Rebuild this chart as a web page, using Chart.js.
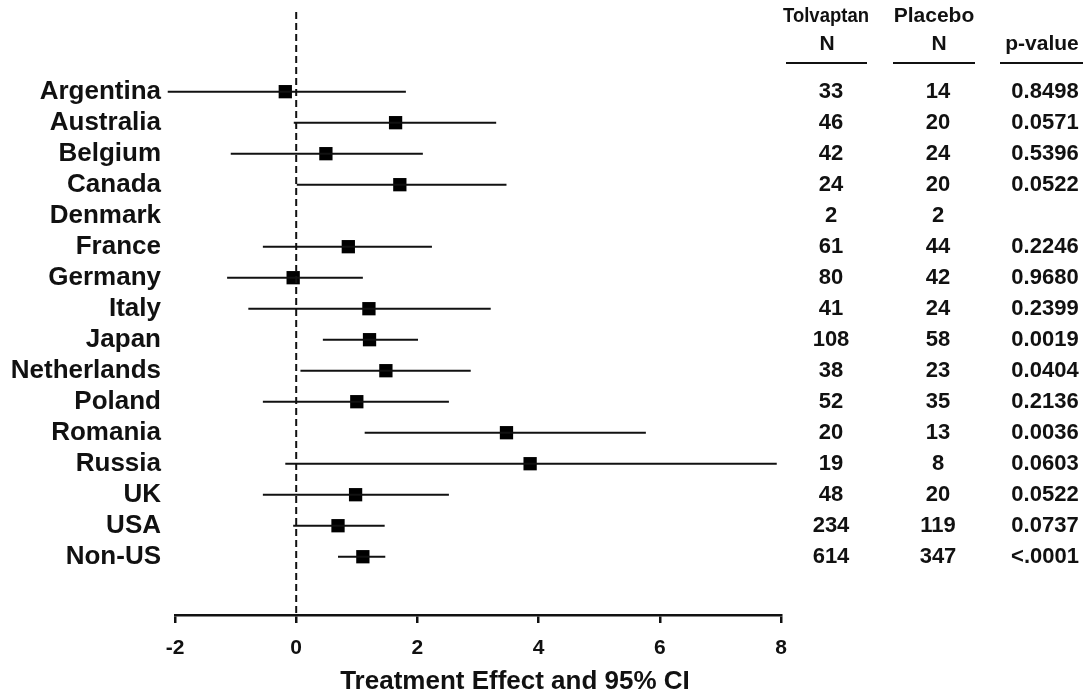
<!DOCTYPE html>
<html>
<head>
<meta charset="utf-8">
<title>Treatment effect by country</title>
<script src="https://cdn.jsdelivr.net/npm/chart.js@4/dist/chart.umd.min.js"></script>
<style>
  html, body { margin: 0; padding: 0; background: #ffffff; }
  #wrap { width: 1086px; height: 698px; }
</style>
</head>
<body>
<div id="wrap"><canvas id="forest" width="1086" height="698"></canvas></div>
<script>
// Countries, top to bottom
const countries = ['Argentina', 'Australia', 'Belgium', 'Canada', 'Denmark', 'France', 'Germany',
  'Italy', 'Japan', 'Netherlands', 'Poland', 'Romania', 'Russia', 'UK', 'USA', 'Non-US'];

// Treatment effect with 95% CI (Denmark has no estimate)
const estimate = [-0.18, 1.64, 0.49, 1.71, null, 0.86, -0.05, 1.20, 1.21, 1.48, 1.00, 3.47, 3.86, 0.98, 0.69, 1.10];
const lowerCI  = [-2.12, -0.04, -1.08, 0.01, null, -0.55, -1.14, -0.79, 0.44, 0.07, -0.55, 1.13, -0.18, -0.55, -0.05, 0.69];
const upperCI  = [1.81, 3.30, 2.09, 3.47, null, 2.24, 1.10, 3.21, 2.01, 2.88, 2.52, 5.77, 7.93, 2.52, 1.46, 1.47];

// Table columns
const tolvaptanN = [33, 46, 42, 24, 2, 61, 80, 41, 108, 38, 52, 20, 19, 48, 234, 614];
const placeboN   = [14, 20, 24, 20, 2, 44, 42, 24, 58, 23, 35, 13, 8, 20, 119, 347];
const pValues    = ['0.8498', '0.0571', '0.5396', '0.0522', '', '0.2246', '0.9680', '0.2399', '0.0019',
  '0.0404', '0.2136', '0.0036', '0.0603', '0.0522', '0.0737', '<.0001'];

// Axis
const xTicks = [-2, 0, 2, 4, 6, 8];
const noEffect = 0;
const axisTitle = 'Treatment Effect and 95% CI';

const INK = '#111111';
const FONT = '"Liberation Sans", Arial, Helvetica, sans-serif';

// y runs over row indices; a little room above the first row and below the last
const yMin = -2.57;
const yMax = 16.88;

const datasets = [];

// dashed no-effect reference line
datasets.push({
  type: 'line',
  data: [{ x: noEffect, y: yMin }, { x: noEffect, y: yMax }],
  borderColor: INK,
  borderWidth: 2,
  borderDash: [7, 4],
  pointRadius: 0,
  fill: false
});

// confidence interval whiskers (may run past the axis ends)
countries.forEach((c, i) => {
  if (lowerCI[i] === null) return;
  datasets.push({
    type: 'line',
    label: c,
    data: [{ x: lowerCI[i], y: i }, { x: upperCI[i], y: i }],
    borderColor: INK,
    borderWidth: 2,
    pointRadius: 0,
    fill: false,
    clip: false
  });
});

// point estimates
datasets.push({
  type: 'scatter',
  data: countries.map((c, i) => ({ x: estimate[i], y: i })).filter(p => p.x !== null),
  pointStyle: 'rect',
  pointRadius: 9.4,
  pointHoverRadius: 9.4,
  backgroundColor: '#000000',
  borderColor: '#000000',
  borderWidth: 0,
  clip: false
});

// table to the right of the plot and the axis title
const tablePlugin = {
  id: 'forestTable',
  afterDraw(chart) {
    const ctx = chart.ctx;
    const y = chart.scales.y;
    const area = chart.chartArea;
    const col1 = area.right + 50, col2 = area.right + 157, col3 = area.right + 264;
    ctx.save();
    ctx.fillStyle = INK;
    ctx.textAlign = 'center';
    ctx.textBaseline = 'middle';

    // header
    ctx.font = 'bold 21px ' + FONT;
    ctx.fillText('Tolvaptan', area.right + 45, 16, 86);
    ctx.fillText('Placebo', area.right + 153, 16);
    ctx.fillText('N', area.right + 46, 44);
    ctx.fillText('N', area.right + 158, 44);
    ctx.fillText('p-value', area.right + 261, 44);
    ctx.strokeStyle = INK;
    ctx.lineWidth = 2;
    [[786, 867], [893, 975], [1000, 1083]].forEach(([a, b]) => {
      ctx.beginPath();
      ctx.moveTo(a, 63);
      ctx.lineTo(b, 63);
      ctx.stroke();
    });

    // rows
    ctx.font = 'bold 22px ' + FONT;
    countries.forEach((c, i) => {
      const py = y.getPixelForValue(i);
      ctx.fillText(String(tolvaptanN[i]), col1, py);
      ctx.fillText(String(placeboN[i]), col2, py);
      if (pValues[i]) ctx.fillText(pValues[i], col3, py);
    });

    // x axis title
    ctx.font = 'bold 26px ' + FONT;
    ctx.fillText(axisTitle, 515, 682);
    ctx.restore();
  }
};

new Chart(document.getElementById('forest'), {
  type: 'scatter',
  data: { datasets },
  options: {
    responsive: false,
    animation: false,
    events: [],
    layout: { padding: { top: 12, right: 305, bottom: 0, left: 0 } },
    plugins: { legend: { display: false }, tooltip: { enabled: false } },
    scales: {
      x: {
        type: 'linear',
        min: xTicks[0],
        max: xTicks[xTicks.length - 1],
        afterBuildTicks: s => { s.ticks = xTicks.map(v => ({ value: v })); },
        afterFit: s => { s.height = 83; s.paddingLeft = 0; s.paddingRight = 0; },
        ticks: {
          color: INK,
          font: { family: FONT, size: 21, weight: 'bold' },
          padding: 13,
          maxRotation: 0
        },
        grid: {
          display: true,
          drawOnChartArea: false,
          drawTicks: true,
          tickLength: 8,
          lineWidth: 2.5,
          color: INK
        },
        border: { display: true, color: INK, width: 2.5 }
      },
      y: {
        type: 'linear',
        reverse: true,
        min: yMin,
        max: yMax,
        afterBuildTicks: s => { s.ticks = countries.map((c, i) => ({ value: i })); },
        afterFit: s => { s.width = 175; s.paddingTop = 0; s.paddingBottom = 0; },
        ticks: {
          autoSkip: false,
          color: INK,
          font: { family: FONT, size: 26, weight: 'bold' },
          padding: 14,
          callback: v => countries[v]
        },
        grid: { display: false, drawTicks: false },
        border: { display: false }
      }
    }
  },
  plugins: [tablePlugin]
});
</script>
</body>
</html>
